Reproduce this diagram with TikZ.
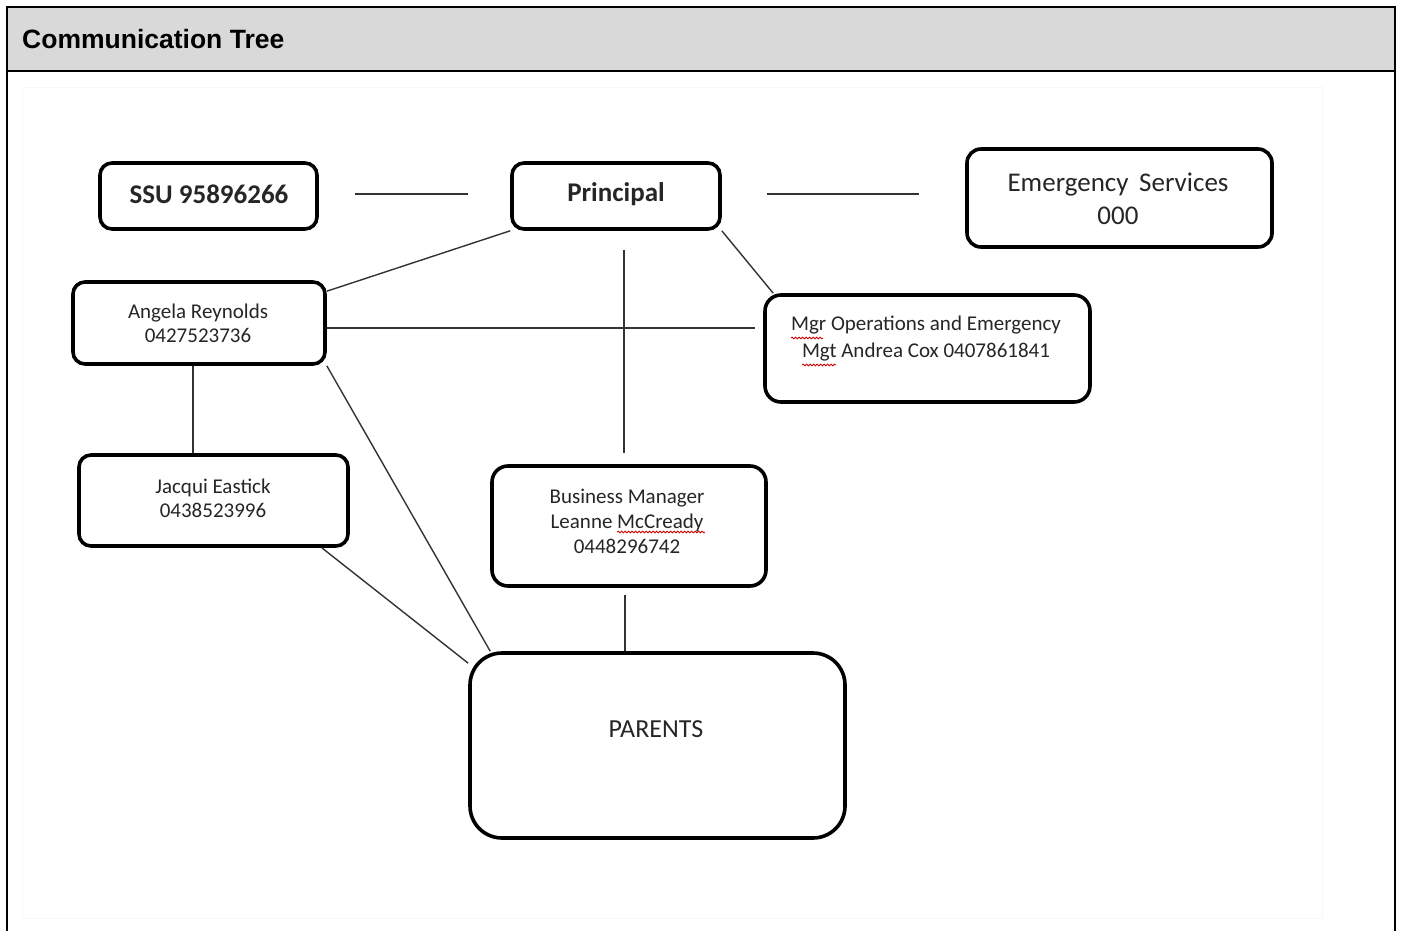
\documentclass[tikz,border=0pt]{standalone}
\usepackage{fontspec}
\setmainfont{Carlito}
\newfontfamily\hdrfont{Liberation Sans}
\usetikzlibrary{calc,decorations.pathmorphing}
\tikzset{
  box/.style={draw=black, line width=3.6pt, rounded corners=12pt, fill=white, inner sep=0pt},
  conn/.style={draw=black!80, line width=1.4pt},
  txt/.style={text=black!85, align=center, inner sep=0pt},
  spell/.style={draw=red!80!black, line width=0.8pt, decorate, decoration={snake, amplitude=0.9pt, segment length=3.5pt}},
}
\begin{document}
\begin{tikzpicture}[x=1pt,y=-1pt]
\useasboundingbox (0,0) rectangle (1402,931);
% header band and frame
\fill[black!15] (7,7) rectangle (1395,71);
\draw[line width=2pt] (7,931) -- (7,7) -- (1395,7) -- (1395,931);
\draw[line width=2pt] (7,71) -- (1395,71);
\node[anchor=base west, inner sep=0pt, font=\hdrfont\bfseries\fontsize{26.5}{30}\selectfont] (title) at (22,49) {Communication Tree};
% faint picture area
\draw[black!3, line width=1pt] (22,88) rectangle (1322,918);
% boxes
\node[box, minimum width=217pt, minimum height=66pt] (ssu) at (208.5,196) {};
\node[box, minimum width=208pt, minimum height=66pt] (pr) at (616,196) {};
\node[box, minimum width=305pt, minimum height=98pt, rounded corners=14pt] (em) at (1119.5,198) {};
\node[box, minimum width=252pt, minimum height=82pt] (ang) at (199,323) {};
\node[box, minimum width=325pt, minimum height=107pt, rounded corners=16pt] (mgr) at (927.5,348.5) {};
\node[box, minimum width=269pt, minimum height=91pt] (jq) at (213.5,500.5) {};
\node[box, minimum width=274pt, minimum height=120pt, rounded corners=16pt] (bm) at (629,526) {};
\node[box, minimum width=375pt, minimum height=185pt, rounded corners=32pt] (par) at (657.5,745.5) {};
% texts
\node[txt, font=\bfseries\fontsize{27}{30}\selectfont] (ssut) at (209,194) {SSU 95896266};
\node[txt, font=\bfseries\fontsize{27}{30}\selectfont] (prt) at (616,194) {Principal};
\node[txt, font=\fontsize{27}{33}\selectfont] (emt) at (1118,199) {Emergency\, Services\\000};
\node[txt, font=\fontsize{21}{24}\selectfont] (angt) at (198,323) {Angela Reynolds\\0427523736};
\node[txt, font=\fontsize{21}{27}\selectfont] (mgrt) at (926,339) {Mgr Operations and Emergency\\Mgt Andrea Cox 0407861841};
\node[txt, font=\fontsize{21}{24}\selectfont] (jqt) at (213,498) {Jacqui Eastick\\0438523996};
\node[txt, font=\fontsize{21}{25}\selectfont] (bmt) at (627,521) {Business Manager\\Leanne McCready\\0448296742};
\node[txt, font=\fontsize{26}{30}\selectfont] (part) at (656,729) {PARENTS};
% spell-check marks
\draw[spell] (791,338) -- (823,338);
\draw[spell] (802,365) -- (836,365);
\draw[spell] (617,532) -- (705,532);
% connectors
\draw[conn, shorten <=36pt, shorten >=42pt] ([yshift=2pt]ssu.east) -- ([yshift=2pt]ssu.east -| pr.west);
\draw[conn, shorten <=45pt, shorten >=46pt] ([yshift=2pt]pr.east) -- ([yshift=2pt]pr.east -| em.west);
\draw[conn] (pr.south west) -- ([yshift=-11pt]ang.north east);
\draw[conn] (pr.south east) -- ([xshift=10pt]mgr.north west);
\draw[conn, shorten <=19pt, shorten >=11pt] ([xshift=8pt]pr.south) -- ([xshift=8pt]pr.south |- bm.north);
\draw[conn, shorten >=8pt] ([yshift=-5pt]ang.east) -- ([yshift=-5pt]ang.east -| mgr.west);
\draw[conn] ([xshift=-6pt]ang.south) -- ([xshift=-6pt]ang.south |- jq.north);
\draw[conn] (ang.south east) -- ([xshift=22pt]par.north west);
\draw[conn] ([xshift=-28pt]jq.south east) -- ([yshift=-12pt]par.north west);
\draw[conn, shorten <=7pt] ([xshift=-4pt]bm.south) -- ([xshift=-4pt]bm.south |- par.north);
\end{tikzpicture}
\end{document}
